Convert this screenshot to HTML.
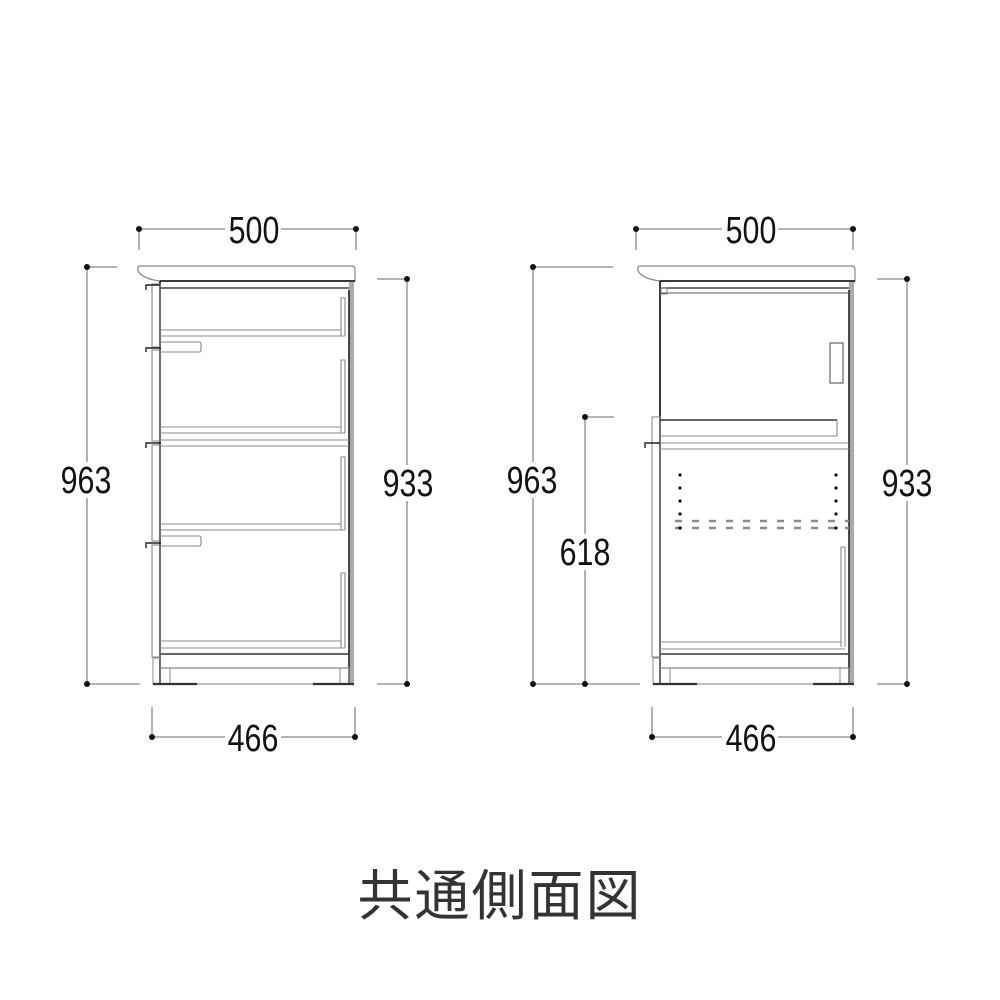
<!DOCTYPE html>
<html><head><meta charset="utf-8"><style>
html,body{margin:0;padding:0;background:#fff}
svg{display:block}
.num{font-family:"Liberation Sans",sans-serif;font-size:38px;fill:#111}
</style></head><body>
<svg width="1000" height="1000" viewBox="0 0 1000 1000" xmlns="http://www.w3.org/2000/svg">
<defs>
<g id="shell">
  <path d="M140,266 L352,266 Q355,266 355,270 L355,281 L160,281 Q143,279 138,271 Q137,266 140,266 Z" fill="#fff" stroke="#888" stroke-width="1.2"/>
  <line x1="160" y1="281" x2="355" y2="281" stroke="#222" stroke-width="1.8"/>
  <rect x="349" y="282" width="5" height="402" fill="#aaa"/>
  <line x1="349" y1="290" x2="349" y2="684" stroke="#222" stroke-width="1.6"/>
  <line x1="160" y1="288" x2="349" y2="288" stroke="#444" stroke-width="1.6"/>
  <line x1="160" y1="281" x2="160" y2="684" stroke="#222" stroke-width="1.8"/>
  <line x1="160" y1="654" x2="349" y2="654" stroke="#333" stroke-width="1.6"/>
  <line x1="160" y1="668" x2="349" y2="668" stroke="#888" stroke-width="1.2"/>
  <rect x="160" y="668" width="10" height="16" fill="none" stroke="#888" stroke-width="1"/>
  <rect x="340" y="668" width="9" height="16" fill="none" stroke="#888" stroke-width="1"/>
  <rect x="153" y="658" width="7" height="26" fill="none" stroke="#888" stroke-width="1"/>
  <line x1="153" y1="684" x2="354" y2="684" stroke="#999" stroke-width="1.2"/>
  <line x1="153" y1="684" x2="197" y2="684" stroke="#333" stroke-width="2.2"/>
  <line x1="313" y1="684" x2="354" y2="684" stroke="#333" stroke-width="2.2"/>
</g>
</defs>

<use href="#shell"/>
<g fill="none" stroke="#888" stroke-width="1.1">
  <rect x="152" y="284" width="8" height="63"/>
  <rect x="152" y="350" width="8" height="91"/>
  <rect x="152" y="445" width="8" height="96"/>
  <rect x="152" y="545" width="8" height="112"/>
  <line x1="160" y1="330" x2="341" y2="330"/><line x1="160" y1="336" x2="345" y2="336"/>
  <line x1="160" y1="427" x2="341" y2="427"/><line x1="160" y1="433" x2="345" y2="433"/>
  <line x1="160" y1="440" x2="349" y2="440"/><line x1="160" y1="446" x2="349" y2="446"/>
  <line x1="160" y1="524" x2="341" y2="524"/><line x1="160" y1="530" x2="345" y2="530"/>
  <line x1="160" y1="641" x2="341" y2="641"/><line x1="160" y1="648" x2="345" y2="648"/>
  <path d="M341,336 L341,298 L345,298 L345,336"/>
  <path d="M341,433 L341,360 L345,360 L345,433"/>
  <path d="M341,530 L341,457 L345,457 L345,530"/>
  <path d="M341,648 L341,573 L345,573 L345,648"/>
  <path d="M160,342 L199,342 Q201,342 201,344 L201,350 Q201,352 199,352 L160,352"/>
  <path d="M160,536 L199,536 Q201,536 201,538 L201,544 Q201,546 199,546 L160,546"/>
</g>
<g fill="none" stroke="#222" stroke-width="1.4">
  <path d="M146,290 L146,285 L160,285"/>
  <path d="M146,352 L146,348 L160,348"/>
  <path d="M146,448 L146,443 L160,443"/>
  <path d="M146,548 L146,543 L160,543"/>
</g>

<use href="#shell" transform="translate(500,0)"/>
<g fill="none" stroke="#888" stroke-width="1.1">
  <rect x="661" y="288" width="6" height="6"/>
  <line x1="660" y1="293" x2="849" y2="293" stroke="#555"/>
  <rect x="830" y="343" width="13" height="40" stroke="#555"/>
  <rect x="652" y="417" width="8" height="240"/>
  <line x1="660" y1="420" x2="837" y2="420" stroke="#333" stroke-width="1.6"/>
  <line x1="837" y1="420" x2="837" y2="436"/>
  <line x1="660" y1="436" x2="837" y2="436"/>
  <line x1="660" y1="443" x2="849" y2="443"/>
  <line x1="660" y1="449" x2="849" y2="449"/>
  <path d="M841,647 L841,547 L845,547 L845,647"/>
  <line x1="660" y1="642" x2="841" y2="642"/><line x1="660" y1="649" x2="845" y2="649"/>
  <line x1="675" y1="521" x2="849" y2="521" stroke="#8a8a8a" stroke-width="2.4" stroke-dasharray="7,10"/>
  <line x1="675" y1="528" x2="849" y2="528" stroke="#8a8a8a" stroke-width="2.4" stroke-dasharray="7,10"/>
</g>
<g fill="none" stroke="#222" stroke-width="1.4"><path d="M645,448 L645,443 L660,443"/></g>
<g fill="#111">
  <circle cx="680" cy="475" r="1.6"/><circle cx="680" cy="488" r="1.6"/><circle cx="680" cy="501" r="1.6"/><circle cx="680" cy="514" r="1.6"/><circle cx="680" cy="528" r="1.6"/>
  <circle cx="836" cy="475" r="1.6"/><circle cx="836" cy="488" r="1.6"/><circle cx="836" cy="501" r="1.6"/><circle cx="836" cy="514" r="1.6"/><circle cx="836" cy="528" r="1.6"/>
</g>

<g stroke="#888" stroke-width="1.3" fill="none">
  <line x1="139" y1="229" x2="356" y2="229"/><line x1="139" y1="229" x2="139" y2="250"/><line x1="356" y1="229" x2="356" y2="250"/>
  <line x1="87" y1="267" x2="87" y2="684"/><line x1="87" y1="267" x2="117" y2="267"/><line x1="87" y1="684" x2="140" y2="684"/>
  <line x1="407" y1="279" x2="407" y2="684"/><line x1="377" y1="279" x2="407" y2="279"/><line x1="377" y1="684" x2="407" y2="684"/>
  <line x1="152" y1="737" x2="355" y2="737"/><line x1="152" y1="707" x2="152" y2="737"/><line x1="355" y1="707" x2="355" y2="737"/>
  <line x1="636" y1="229" x2="853" y2="229"/><line x1="636" y1="229" x2="636" y2="250"/><line x1="853" y1="229" x2="853" y2="250"/>
  <line x1="533" y1="267" x2="533" y2="684"/><line x1="533" y1="267" x2="613" y2="267"/><line x1="533" y1="684" x2="640" y2="684"/>
  <line x1="585" y1="417" x2="585" y2="684"/><line x1="585" y1="417" x2="614" y2="417"/>
  <line x1="907" y1="279" x2="907" y2="684"/><line x1="877" y1="279" x2="907" y2="279"/><line x1="877" y1="684" x2="907" y2="684"/>
  <line x1="652" y1="737" x2="853" y2="737"/><line x1="652" y1="707" x2="652" y2="737"/><line x1="853" y1="707" x2="853" y2="737"/>
</g>
<g fill="#111">
  <circle cx="139" cy="229" r="3"/><circle cx="356" cy="229" r="3"/>
  <circle cx="87" cy="267" r="3"/><circle cx="87" cy="684" r="3"/>
  <circle cx="407" cy="279" r="3"/><circle cx="407" cy="684" r="3"/>
  <circle cx="152" cy="737" r="3"/><circle cx="355" cy="737" r="3"/>
  <circle cx="636" cy="229" r="3"/><circle cx="853" cy="229" r="3"/>
  <circle cx="533" cy="267" r="3"/><circle cx="533" cy="684" r="3"/>
  <circle cx="585" cy="417" r="3"/><circle cx="585" cy="684" r="3"/>
  <circle cx="907" cy="279" r="3"/><circle cx="907" cy="684" r="3"/>
  <circle cx="652" cy="737" r="3"/><circle cx="853" cy="737" r="3"/>
</g>
<g fill="#fff">
  <rect x="225" y="215" width="56" height="30"/><rect x="722" y="215" width="56" height="30"/>
  <rect x="58" y="462" width="58" height="36"/><rect x="380" y="465" width="56" height="36"/>
  <rect x="504" y="462" width="58" height="36"/><rect x="556" y="534" width="58" height="36"/>
  <rect x="878" y="465" width="58" height="36"/>
  <rect x="225" y="722" width="56" height="30"/><rect x="722" y="722" width="56" height="30"/>
</g>
<g class="num" text-anchor="middle">
  <text transform="translate(254,243) scale(0.8,1)">500</text>
  <text transform="translate(751,243) scale(0.8,1)">500</text>
  <text transform="translate(86,493) scale(0.8,1)">963</text>
  <text transform="translate(532,493) scale(0.8,1)">963</text>
  <text transform="translate(408,496) scale(0.8,1)">933</text>
  <text transform="translate(907,496) scale(0.8,1)">933</text>
  <text transform="translate(585,565) scale(0.8,1)">618</text>
  <text transform="translate(253,751) scale(0.8,1)">466</text>
  <text transform="translate(751,751) scale(0.8,1)">466</text>
</g>
<text x="500" y="915" text-anchor="middle" font-family="'Noto Sans CJK JP',sans-serif" font-size="55" font-weight="400" fill="#333" letter-spacing="2">共通側面図</text>
</svg>
</body></html>
